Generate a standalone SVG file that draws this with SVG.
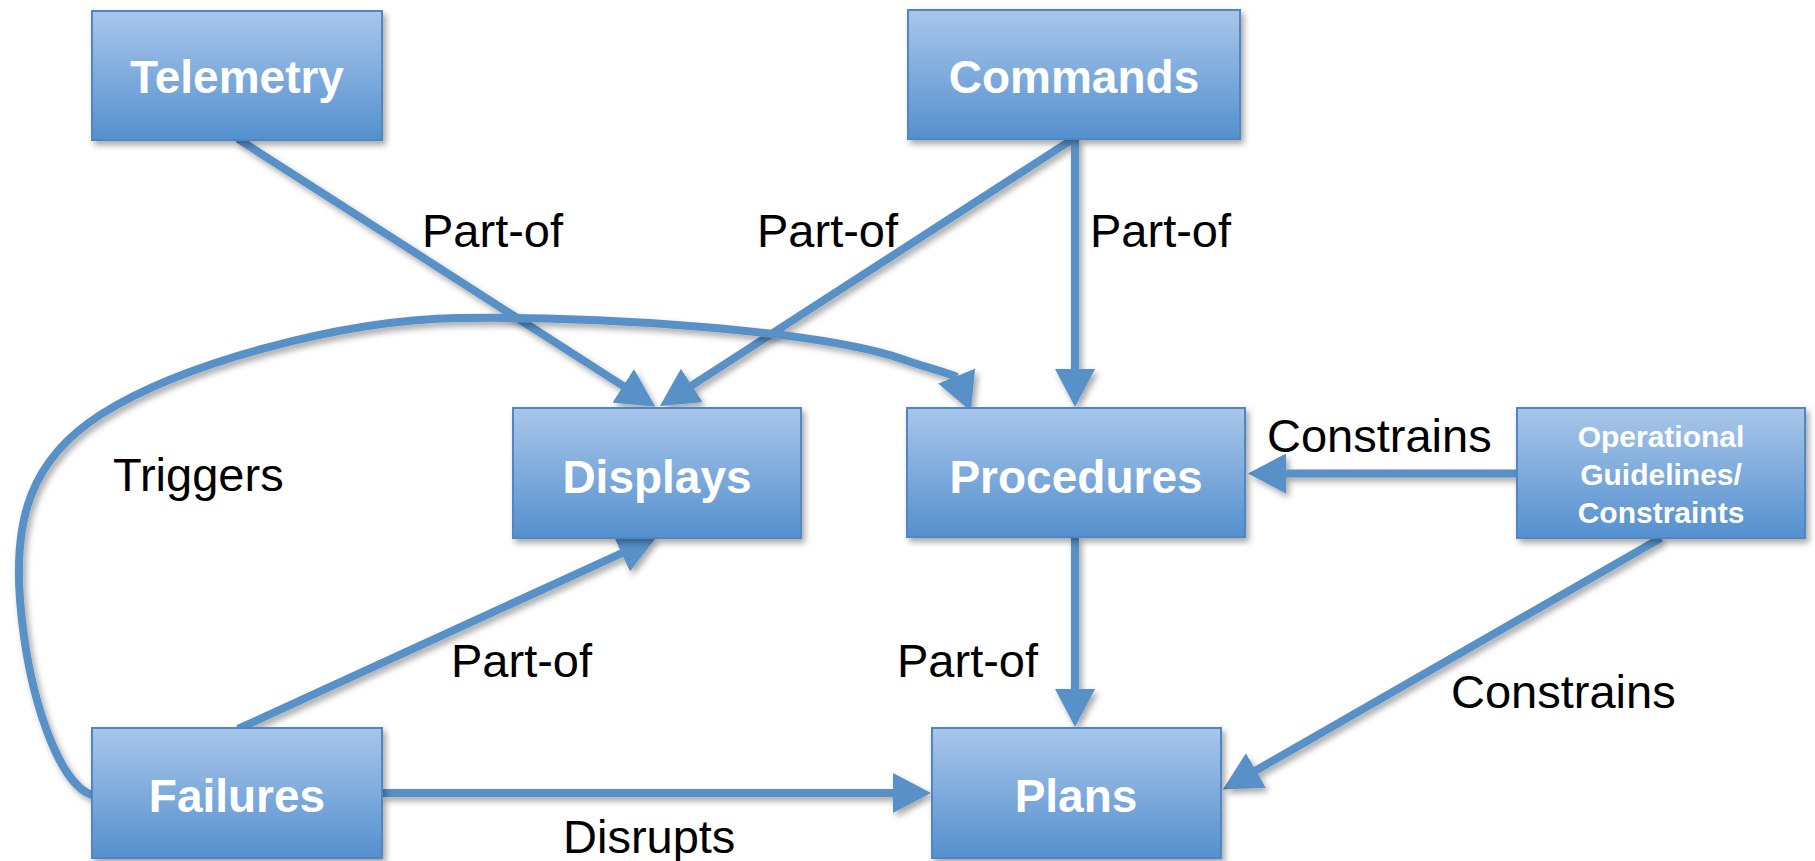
<svg xmlns="http://www.w3.org/2000/svg" width="1815" height="861" viewBox="0 0 1815 861">
<style>
.box{fill:url(#g);stroke:#4F86C6;stroke-width:2;filter:url(#sh)}
.bt{font-family:"Liberation Sans",Arial,sans-serif;font-weight:bold;font-size:46px;fill:#fff;text-anchor:middle}
.st{font-family:"Liberation Sans",Arial,sans-serif;font-weight:bold;font-size:30px;fill:#fff;text-anchor:middle}
.lb{font-family:"Liberation Sans",Arial,sans-serif;font-size:47px;fill:#000}
.c{fill:none;stroke:#5990C8;stroke-width:8;filter:url(#sh)}
</style>
<defs>
<linearGradient id="g" x1="0" y1="0" x2="0" y2="1">
<stop offset="0" stop-color="#A9C6EA"/>
<stop offset="1" stop-color="#5490CE"/>
</linearGradient>
<filter id="sh" filterUnits="userSpaceOnUse" x="0" y="0" width="1815" height="861">
<feDropShadow dx="3" dy="4" stdDeviation="3" flood-color="#000" flood-opacity="0.35"/>
</filter>
<marker id="ah" viewBox="0 0 38 40" refX="1" refY="20" markerWidth="38" markerHeight="40" orient="auto" markerUnits="userSpaceOnUse">
<path d="M0,0 L38,20 L0,40 z" fill="#5990C8"/>
</marker>
<marker id="ahT" viewBox="0 0 38 40" refX="1" refY="20" markerWidth="38" markerHeight="40" orient="68" markerUnits="userSpaceOnUse">
<path d="M0,0 L38,20 L0,40 z" fill="#5990C8"/>
</marker>
</defs>
<g id="connectors">
<path class="c" d="M238,139 L624,386.5" marker-end="url(#ah)"/>
<path class="c" d="M1073,139 L691,386" marker-end="url(#ah)"/>
<path class="c" d="M1075,139 L1075,370" marker-end="url(#ah)"/>
<path class="c" d="M92,795 C60,785 28,700 20,600 C14,520 30,460 100,415 C180,364 340,320 459,318 C600,316 820,330 905,360 C925,367 945,372 957,377" marker-end="url(#ahT)"/>
<path class="c" d="M238,729 L622.5,552.8" marker-end="url(#ah)"/>
<path class="c" d="M382,793 L894,793" marker-end="url(#ah)"/>
<path class="c" d="M1075,537 L1075,690" marker-end="url(#ah)"/>
<path class="c" d="M1517,473.5 L1285,473.5" marker-end="url(#ah)"/>
<path class="c" d="M1661,538 L1255,771" marker-end="url(#ah)"/>
</g>
<g id="labels">
<text class="lb" x="422" y="247">Part-of</text>
<text class="lb" x="757" y="247">Part-of</text>
<text class="lb" x="1090" y="247">Part-of</text>
<text class="lb" x="113" y="491">Triggers</text>
<text class="lb" x="451" y="677">Part-of</text>
<text class="lb" x="897" y="677">Part-of</text>
<text class="lb" x="563" y="853">Disrupts</text>
<text class="lb" x="1267" y="452">Constrains</text>
<text class="lb" x="1451" y="708">Constrains</text>
</g>
<g id="telemetry"><rect class="box" x="92" y="11" width="290" height="129"/><text class="bt" x="237" y="93">Telemetry</text></g>
<g id="commands"><rect class="box" x="908" y="10" width="332" height="129"/><text class="bt" x="1074" y="93">Commands</text></g>
<g id="displays"><rect class="box" x="513" y="408" width="288" height="130"/><text class="bt" x="657" y="493">Displays</text></g>
<g id="procedures"><rect class="box" x="907" y="408" width="338" height="129"/><text class="bt" x="1076" y="493">Procedures</text></g>
<g id="operational"><rect class="box" x="1517" y="408" width="288" height="130"/><text class="st" x="1661" y="447">Operational</text><text class="st" x="1661" y="485">Guidelines/</text><text class="st" x="1661" y="523">Constraints</text></g>
<g id="failures"><rect class="box" x="92" y="728" width="290" height="130"/><text class="bt" x="237" y="812">Failures</text></g>
<g id="plans"><rect class="box" x="932" y="728" width="289" height="130"/><text class="bt" x="1076" y="812">Plans</text></g>
</svg>
